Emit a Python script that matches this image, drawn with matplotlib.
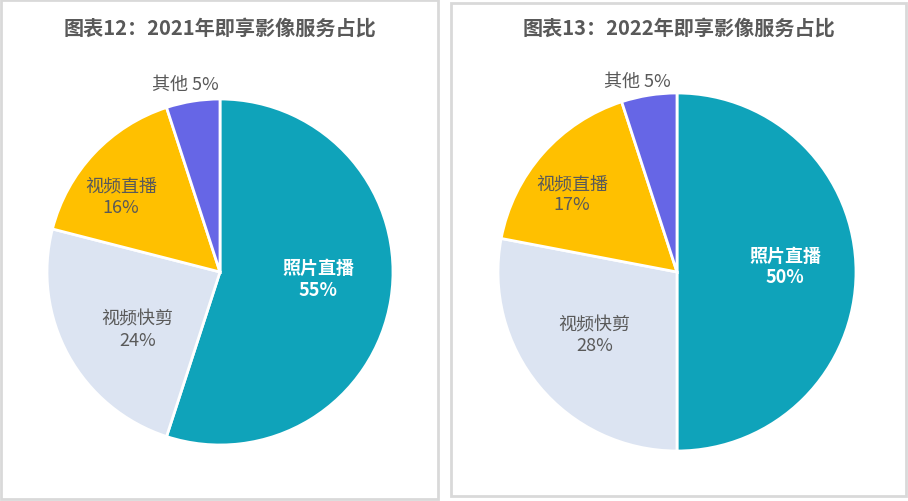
import numpy as np
import matplotlib
matplotlib.use("Agg")
import matplotlib.pyplot as plt
from matplotlib.patches import Rectangle

plt.rcParams['font.family'] = ['Noto Sans CJK SC', 'DejaVu Sans']

# data
categories = ['照片直播', '视频快剪', '视频直播', '其他']
share_2021 = [55, 24, 16, 5]
share_2022 = [50, 28, 17, 5]
titles = ['图表12：2021年即享影像服务占比', '图表13：2022年即享影像服务占比']

colors = ['#0FA3BA', '#DCE4F2', '#FFC000', '#6666E6']
text_colors = ['white', '#595959', '#595959', '#595959']

W, H = 908, 502
fig = plt.figure(figsize=(W / 100, H / 100), dpi=100)


def px_rect(x0, y0, x1, y1):
    # pixel box (top-left origin) -> figure fraction [l, b, w, h]
    return [x0 / W, 1 - y1 / H, (x1 - x0) / W, (y1 - y0) / H]


def draw_pie(values, title, panel, center, radius, label_pos):
    x0, y0, x1, y1 = panel
    fig.patches.append(Rectangle((x0 / W, 1 - y1 / H), (x1 - x0) / W, (y1 - y0) / H,
                                 transform=fig.transFigure, fill=False,
                                 edgecolor='#D9D9D9', linewidth=2))
    fig.text((x0 + x1) / 2 / W, 1 - 28 / H, title, ha='center', va='center',
             fontsize=14.5, fontweight='bold', color='#595959')

    cx, cy = center
    ax = fig.add_axes(px_rect(cx - radius, cy - radius, cx + radius, cy + radius))
    wedges, _ = ax.pie(values, colors=colors, startangle=90, counterclock=False,
                       radius=1, wedgeprops=dict(edgecolor='white', linewidth=2))
    ax.set_xlim(-1, 1)
    ax.set_ylim(-1, 1)
    ax.set_aspect('equal')
    ax.axis('off')

    # label placed at (distance, angle offset) relative to the wedge middle
    for i, (w, name, v) in enumerate(zip(wedges, categories, values)):
        d, off = label_pos[i]
        ang = np.deg2rad((w.theta1 + w.theta2) / 2 + off)
        x, y = d * np.cos(ang), d * np.sin(ang)
        if name == '其他':
            label = f'{name} {v}%'
        else:
            label = f'{name}\n{v}%'
        ax.text(x, y, label, ha='center', va='center', fontsize=13,
                color=text_colors[i], linespacing=1.2,
                fontweight='bold' if i == 0 else 'normal', clip_on=False)


draw_pie(share_2021, titles[0], (1, 1, 438, 500), (220, 273), 173,
         [(0.57, 5), (0.58, 6), (0.72, 5.7), (1.105, 1.3)])
draw_pie(share_2022, titles[1], (451, 4, 906, 497), (677, 273), 179,
         [(0.605, 3.2), (0.58, -2.4), (0.73, 4.8), (1.09, 2.7)])

fig.savefig('out.png', dpi=100)
